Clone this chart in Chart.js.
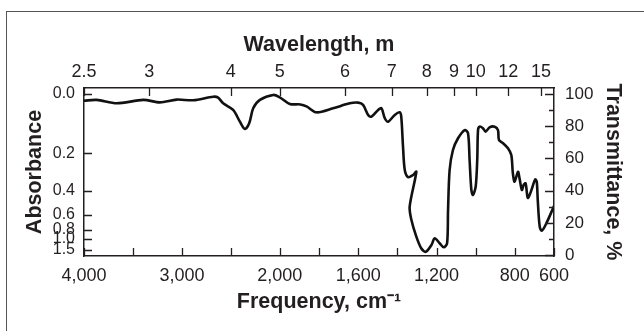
<!DOCTYPE html>
<html>
<head>
<meta charset="utf-8">
<script src="https://cdn.jsdelivr.net/npm/chart.js@4.4.1/dist/chart.umd.min.js"></script>
<style>
  html, body { margin: 0; padding: 0; background: #fff; }
  #wrap { position: relative; width: 644px; height: 331px; overflow: hidden; }
  #frame { position: absolute; left: 6px; top: 11px; width: 700px; height: 400px;
           border-left: 1.5px solid #555; border-top: 1.5px solid #555; }
  canvas { position: absolute; left: 0; top: 0; }
</style>
</head>
<body>
<div id="wrap">
  <div id="frame"></div>
  <canvas id="irChart" width="644" height="331"></canvas>
</div>
<script>
// spectrum: frequency (cm-1) and transmittance (%)
const frequency = [
  4000, 3871, 3666, 3395, 3224, 3054, 2884, 2680, 2630, 2579,
  2477, 2408, 2357, 2313, 2272, 2204, 2068, 2000, 1949, 1895,
  1864, 1813, 1728, 1643, 1600, 1575, 1549, 1532, 1498, 1481,
  1464, 1447, 1413, 1388, 1380, 1371, 1362, 1345, 1320, 1303,
  1337, 1328, 1303, 1278, 1255, 1226, 1209, 1184, 1163, 1146,
  1141, 1133, 1116, 1090, 1056, 1039, 1031, 1022, 1014, 1000,
  992, 988, 980, 963, 949, 929, 903, 886, 881, 860,
  835, 818, 810, 801, 784, 776, 764, 755, 745, 734,
  722, 708, 696, 688, 683, 673, 662, 639, 605, 600
];
const transmittance = [
  95.8, 96.3, 94.2, 96.3, 94.8, 96.5, 96.1, 98.3, 97.7, 94.2,
  90.1, 82.8, 78.3, 81.8, 91.1, 96.3, 99.4, 97.9, 93.8, 93.5,
  92.3, 88.6, 91.1, 94.2, 94.6, 93.2, 87.0, 85.9, 90.1, 91.1,
  84.9, 82.8, 87.0, 88.6, 85.9, 67.3, 52.8, 48.3, 49.7, 51.7,
  30.0, 21.7, 11.4, 4.2, 2.0, 6.2, 10.4, 7.3, 4.8, 7.3,
  28.0, 52.8, 65.2, 72.5, 77.6, 75.6, 59.0, 40.4, 37.3, 42.4,
  59.0, 77.6, 79.7, 78.7, 76.6, 79.3, 79.7, 77.6, 71.4, 69.4,
  66.3, 62.1, 50.7, 45.5, 51.7, 47.6, 40.4, 43.5, 44.5, 35.5,
  38.0, 43.0, 47.0, 45.5, 34.2, 17.6, 15.1, 19.7, 29.0, 30.5
];

const freqTicks = [4000, 3500, 3000, 2500, 2000, 1800, 1600, 1400, 1200, 1000, 800, 600];
const freqLabels = [4000, 3000, 2000, 1600, 1200, 800, 600];
const wavelengthTicks = [2.5, 3, 4, 5, 6, 7, 8, 9, 10, 12, 15];
const transTicks = [0, 10, 20, 30, 40, 50, 60, 70, 80, 90, 100];
const transLabels = [0, 20, 40, 60, 80, 100];
const absorbanceTicks = [0.0, 0.2, 0.4, 0.6, 0.8, 1.0, 1.5];

const INK = '#231f20';
const FONT = "'Liberation Sans', Arial, Helvetica, sans-serif";

// frequency axis is twice as wide below 2000 cm-1
function freqToAxis(nu) {
  return nu >= 2000 ? 4000 - nu : 2000 + 2 * (2000 - nu);
}
const absToTrans = a => 100 * Math.pow(10, -a);

const points = frequency.map((nu, i) => ({x: freqToAxis(nu), y: transmittance[i]}));

// ticks point into the plot, so they are drawn here from each scale
const inwardTicks = {
  id: 'inwardTicks',
  afterDatasetsDraw(chart) {
    const {ctx, chartArea: a, scales} = chart;
    const px = v => Math.round(v) + 0.5;
    ctx.save();
    ctx.strokeStyle = INK;
    ctx.lineWidth = 1.3;
    ctx.beginPath();
    freqTicks.forEach(nu => {
      const p = px(scales.x.getPixelForValue(freqToAxis(nu)));
      ctx.moveTo(p, a.bottom); ctx.lineTo(p, a.bottom - 8);
    });
    wavelengthTicks.forEach(l => {
      const p = px(scales.xTop.getPixelForValue(freqToAxis(10000 / l)));
      ctx.moveTo(p, a.top); ctx.lineTo(p, a.top + 8);
    });
    absorbanceTicks.forEach(ab => {
      const p = px(scales.yA.getPixelForValue(absToTrans(ab)));
      ctx.moveTo(a.left, p); ctx.lineTo(a.left + 8, p);
    });
    transTicks.forEach(t => {
      const p = px(scales.y.getPixelForValue(t));
      const len = transLabels.includes(t) ? 9 : 5;
      ctx.moveTo(a.right, p); ctx.lineTo(a.right - len, p);
    });
    ctx.stroke();
    ctx.restore();
  }
};

const border = {display: true, color: INK, width: 1.5};
const grid = {display: false, drawTicks: false};
const font = size => ({family: FONT, size});
const titleFont = {family: FONT, size: 21.5, weight: 'bold'};

new Chart(document.getElementById('irChart'), {
  type: 'line',
  data: {
    datasets: [{
      data: points,
      borderColor: '#111',
      borderWidth: 2.6,
      pointRadius: 0,
      tension: 0.3,
      fill: false
    }]
  },
  options: {
    responsive: false,
    animation: false,
    layout: {padding: 0},
    plugins: {legend: {display: false}, tooltip: {enabled: false}},
    scales: {
      x: {
        type: 'linear', position: 'bottom', min: 0, max: 4800,
        grid, border,
        afterBuildTicks: s => { s.ticks = freqTicks.map(v => ({value: freqToAxis(v)})); },
        afterFit: s => { s.height = 75; },
        ticks: {
          autoSkip: false, maxRotation: 0, padding: 9, color: INK, font: font(18),
          callback: (v, i) => freqLabels.includes(freqTicks[i]) ? freqTicks[i].toLocaleString('en-US') : ''
        },
        title: {display: true, text: 'Frequency, cm⁻¹', color: INK, font: titleFont, padding: {top: 0, bottom: 16}}
      },
      xTop: {
        type: 'linear', position: 'top', min: 0, max: 4800,
        grid, border,
        afterBuildTicks: s => { s.ticks = wavelengthTicks.map(l => ({value: freqToAxis(10000 / l)})); },
        afterFit: s => { s.height = 88; },
        ticks: {
          autoSkip: false, maxRotation: 0, padding: 5, color: INK, font: font(18),
          callback: (v, i) => String(wavelengthTicks[i])
        },
        title: {display: true, text: 'Wavelength, m', color: INK, font: titleFont, padding: {top: 32, bottom: 0}}
      },
      y: {
        type: 'linear', position: 'right', min: -0.6, max: 103.7,
        grid, border,
        afterBuildTicks: s => { s.ticks = transTicks.map(v => ({value: v})); },
        afterFit: s => { s.width = 90; },
        ticks: {
          autoSkip: false, padding: 11, color: INK, font: font(17),
          callback: v => transLabels.includes(v) ? String(v) : ''
        },
        title: {display: true, text: 'Transmittance, %', color: INK, font: titleFont, padding: {top: 18, bottom: 0}}
      },
      yA: {
        type: 'linear', position: 'left', min: -0.6, max: 103.7,
        grid, border,
        afterBuildTicks: s => { s.ticks = absorbanceTicks.map(a => ({value: absToTrans(a)})); },
        afterFit: s => { s.width = 84; },
        ticks: {
          autoSkip: false, padding: 9, color: INK, font: font(16),
          callback: (v, i) => absorbanceTicks[i].toFixed(1)
        },
        title: {display: true, text: 'Absorbance', color: INK, font: titleFont, padding: {top: 22, bottom: 0}}
      }
    }
  },
  plugins: [inwardTicks]
});
</script>
</body>
</html>
